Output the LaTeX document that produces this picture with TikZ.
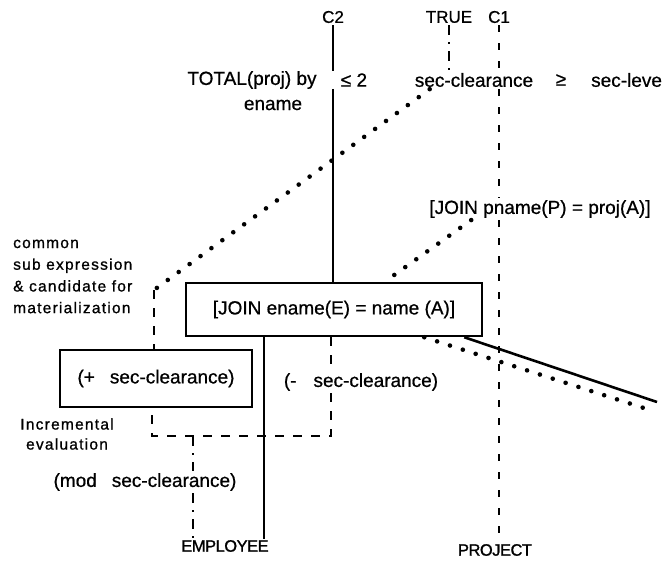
\documentclass[tikz,border=0pt]{standalone}
\usepackage{fontspec}
\setmainfont{Liberation Sans}[FakeBold=0.7]
\newfontfamily\notefont[LetterSpace=8, FakeBold=0.9]{Liberation Sans}
\newfontfamily\relfont[LetterSpace=-3, FakeBold=1.2]{Liberation Sans}
\usetikzlibrary{calc}

\begin{document}
\begin{tikzpicture}[x=1pt, y=-1pt,
    lbl/.style={font=\fontsize{19}{22}\selectfont, inner sep=2pt},
    toplbl/.style={font=\fontsize{17}{20}\selectfont, inner sep=2pt},
    rel/.style={font=\relfont\fontsize{16.5}{19}\selectfont, inner sep=1pt},
    note/.style={font=\notefont\fontsize{15.5}{21.7}\selectfont, inner sep=0pt},
    opbox/.style={draw, line width=2.5pt, font=\fontsize{19}{22}\selectfont, inner sep=0pt},
    solidline/.style={line width=2.6pt},
    dashline/.style={line width=2.8pt, dash pattern=on 9pt off 9pt},
    sparseline/.style={line width=2.6pt, dash pattern=on 7pt off 11pt},
    dashdotline/.style={line width=2.6pt, dash pattern=on 10pt off 7pt on 2pt off 7pt},
    dotline/.style={line width=4.6pt, line cap=round, dash pattern=on 0pt off 13.5pt}]
    \path[use as bounding box, fill=white] (0,0) rectangle (669,561);

    % Define the column labels at the top
    \node[toplbl] (c2) at (333,17) {C2};
    \node[toplbl] (true) at (449,17) {TRUE};
    \node[toplbl] (c1) at (499,17) {C1};

    % Define the predicates
    \node[lbl] (total) at (252,80) {TOTAL(proj) by};
    \node[lbl] (ename) at (273,105) {ename};
    \node[lbl] (le2) at (354,80) {≤ 2};
    \node[lbl] (secc) at (474,80) {sec-clearance};
    \node[lbl] (ge) at (561,80) {≥};
    \node[lbl, anchor=west, inner sep=0pt] (secl) at (591,80) {sec-leve};

    % Define the joins and the clearance terms
    \node[lbl] (joinp) at (540,209) {[JOIN pname(P) = proj(A)]};
    \node[opbox, minimum width=296pt, minimum height=53pt] (joine) at (334,309.5) {[JOIN ename(E) = name (A)]};
    \node[opbox, minimum width=192pt, minimum height=57pt] (plus) at (156,378.5) {(+\hspace{15pt}sec-clearance)};
    \node[lbl] (minus) at (361,382) {(-\hspace{17pt}sec-clearance)};
    \node[lbl] (mod) at (145,482) {(mod\hspace{15pt}sec-clearance)};

    % Define the notes and the relations
    \node[note, anchor=west, align=left] (common) at (13,276.5) {common\\sub expression\\\& candidate for\\materialization};
    \node[note, align=center, font=\notefont\fontsize{15.5}{20}\selectfont] (incr) at (67,434) {Incremental\\evaluation};
    \node[rel] (emp) at (225,546) {EMPLOYEE};
    \node[rel] (proj) at (495,550) {PROJECT};

    % Draw the C2 branch
    \draw[solidline] (c2.south) -- (c2.south |- le2.north);
    \draw[solidline] (c2.south |- le2.south) -- (c2.south |- joine.north);

    % Draw the C1 branch
    \draw[sparseline] (c1.south) -- (c1.south |- secc.north);
    \draw[sparseline] (c1.south |- secc.south) -- (c1.south |- joinp.north);
    \draw[sparseline] (c1.south |- joinp.south) -- (c1.south |- proj.north);
    \draw[dashdotline] (true.south) -- (true.south |- secc.north);

    % Draw the common sub expression
    \coordinate (cse) at (154,290);
    \draw[dotline] ([xshift=17pt]secc.south west) -- (cse);
    \draw[dashline] (cse) -- (cse |- plus.north);
    \draw[dotline] ([xshift=44pt]joinp.south west) -- ($(joine.north west)!0.67!(joine.north east)$);

    % Draw the branches below the join
    \draw[solidline] ($(joine.south west)!0.265!(joine.south east)$) coordinate (e1) -- (e1 |- emp.north);
    \coordinate (mtop) at ([xshift=-3pt]joine.south);
    \coordinate (ubot) at (152,436);
    \draw[dashline] (mtop) -- (mtop |- minus.north);
    \draw[dashline] (mtop |- minus.south) |- (ubot) -- (ubot |- plus.south);
    \coordinate (mtap) at (193,436);
    \draw[dashdotline] (mtap) -- (mtap |- mod.north);
    \draw[dashdotline] (mtap |- mod.south) -- (mtap |- emp.north);

    % Draw the lines leaving to the right
    \coordinate (offr) at (657,402);
    \coordinate (offd) at (650,410);
    \draw[solidline] ([xshift=-19pt]joine.south east) -- (offr);
    \draw[dotline] ([xshift=-59pt]joine.south east) -- (offd);
\end{tikzpicture}
\end{document}
